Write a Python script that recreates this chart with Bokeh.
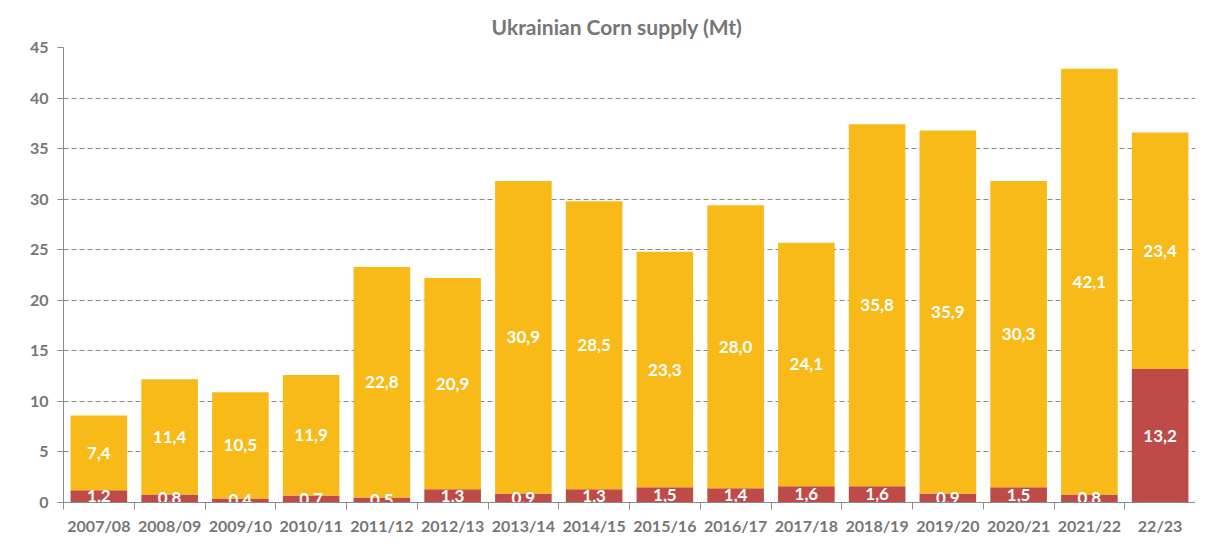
from bokeh.plotting import figure
from bokeh.models import ColumnDataSource, FixedTicker, Range1d, Title
from bokeh.core.properties import value
from bokeh.embed import file_html
from bokeh.resources import INLINE

seasons = ["2007/08", "2008/09", "2009/10", "2010/11", "2011/12", "2012/13",
           "2013/14", "2014/15", "2015/16", "2016/17", "2017/18", "2018/19",
           "2019/20", "2020/21", "2021/22", "22/23"]
stocks = [1.2, 0.8, 0.4, 0.7, 0.5, 1.3, 0.9, 1.3, 1.5, 1.4, 1.6, 1.6, 0.9, 1.5, 0.8, 13.2]
production = [7.4, 11.4, 10.5, 11.9, 22.8, 20.9, 30.9, 28.5, 23.3, 28.0, 24.1, 35.8,
              35.9, 30.3, 42.1, 23.4]
y_ticks = [0, 5, 10, 15, 20, 25, 30, 35, 40, 45]

FONT = "Lato"
YELLOW = "#F8BA18"
RED = "#BE4B48"
GREY = "#767676"

n = len(seasons)
xs = list(range(n))
top_total = [s + p for s, p in zip(stocks, production)]
src = ColumnDataSource(dict(
    x=xs,
    stocks=stocks,
    total=top_total,
    stock_mid=[s / 2 for s in stocks],
    prod_mid=[s + p / 2 for s, p in zip(stocks, production)],
    stock_lbl=[f"{v:.1f}".replace(".", ",") for v in stocks],
    prod_lbl=[f"{v:.1f}".replace(".", ",") for v in production],
))

p = figure(width=1195, height=537, output_backend="svg", toolbar_location=None,
           x_range=Range1d(-0.5, n - 0.5), y_range=Range1d(0, 45),
           min_border_left=63, min_border_right=0, min_border_bottom=35, min_border_top=47)
p.outline_line_color = None
p.background_fill_color = "white"

t = Title(text="Ukrainian Corn supply (Mt)", align="left", offset=428,
          text_font=FONT, text_font_size="21px", text_font_style="bold",
          text_color=GREY, standoff=18)
p.add_layout(t, "above")

p.vbar(x="x", width=0.8, bottom=0, top="stocks", source=src, fill_color=RED, line_color=None)
p.vbar(x="x", width=0.8, bottom="stocks", top="total", source=src, fill_color=YELLOW, line_color=None)

p.text(x="x", y="stock_mid", text="stock_lbl", source=src, text_color="white",
       text_font=value(FONT), text_font_size="17px", text_font_style="bold",
       text_align="center", text_baseline="middle")
p.text(x="x", y="prod_mid", text="prod_lbl", source=src, text_color="white",
       text_font=value(FONT), text_font_size="17px", text_font_style="bold",
       text_align="center", text_baseline="middle")

# grid
p.xgrid.grid_line_color = None
p.ygrid.ticker = FixedTicker(ticks=y_ticks)
p.ygrid.grid_line_color = "#8a8a8a"
p.ygrid.grid_line_dash = "5 3"
p.ygrid.grid_line_width = 1

# y axis
p.yaxis.ticker = FixedTicker(ticks=y_ticks)
p.yaxis.axis_line_color = "#8a8a8a"
p.yaxis.major_tick_line_color = "#8a8a8a"
p.yaxis.major_tick_out = 6
p.yaxis.major_tick_in = 0
p.yaxis.minor_tick_line_color = None
p.yaxis.major_label_text_font = FONT
p.yaxis.major_label_text_font_size = "16px"
p.yaxis.major_label_text_color = GREY
p.yaxis.major_label_text_font_style = "bold"
p.yaxis.major_label_standoff = 9

# x axis: labels at centres, ticks at boundaries (minor ticks)
p.xaxis.ticker = FixedTicker(ticks=xs, minor_ticks=[i - 0.5 for i in range(n + 1)])
p.xaxis.major_label_overrides = {i: s for i, s in enumerate(seasons)}
p.xaxis.axis_line_color = "#8a8a8a"
p.xaxis.major_tick_line_color = None
p.xaxis.major_tick_out = 0
p.xaxis.minor_tick_line_color = "#8a8a8a"
p.xaxis.minor_tick_out = 7
p.xaxis.minor_tick_in = 0
p.xaxis.major_label_text_font = FONT
p.xaxis.major_label_text_font_size = "16px"
p.xaxis.major_label_text_color = GREY
p.xaxis.major_label_text_font_style = "bold"
p.xaxis.major_label_standoff = 6

open("out.html", "w").write(file_html(p, INLINE))
